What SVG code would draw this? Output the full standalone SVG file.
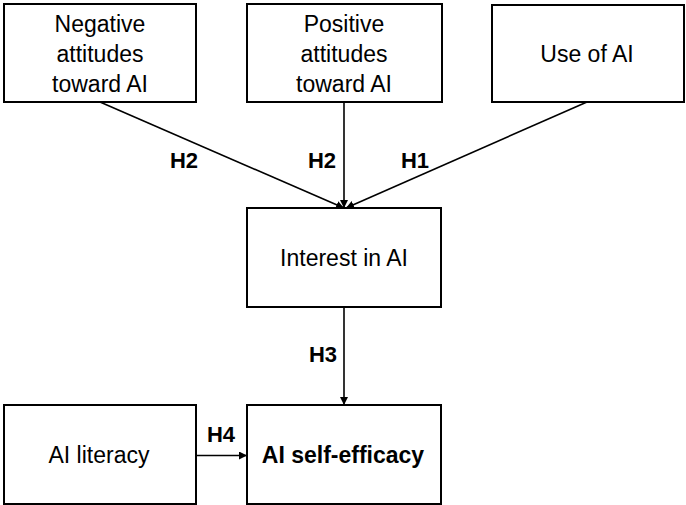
<svg xmlns="http://www.w3.org/2000/svg" width="686" height="505" viewBox="0 0 686 505">
<style>
.box{fill:#fff;stroke:#000;stroke-width:2}
.t{font-family:"Liberation Sans",Arial,sans-serif;font-size:23px;text-anchor:middle;fill:#000}
.b{font-weight:bold}
.lbl{font-family:"Liberation Sans",Arial,sans-serif;font-size:22px;font-weight:bold;text-anchor:middle;fill:#000}
.c{stroke:#000;stroke-width:1.6;fill:none;marker-end:url(#ah)}
</style>
<defs>
<marker id="ah" viewBox="0 0 10 10" refX="10" refY="5" markerWidth="8" markerHeight="8" markerUnits="userSpaceOnUse" orient="auto">
<path d="M0,0 L10,5 L0,10 Z" fill="#000"/>
</marker>
</defs>
<rect width="686" height="505" fill="#fff"/>
<g id="connectors">
<line class="c" x1="100" y1="102" x2="344" y2="208"/>
<line class="c" x1="344" y1="102" x2="344" y2="208"/>
<line class="c" x1="587" y1="102" x2="346" y2="208"/>
<line class="c" x1="344" y1="307" x2="344" y2="405"/>
<line class="c" x1="196" y1="455.5" x2="247" y2="455.5"/>
<text class="lbl" x="184" y="168">H2</text>
<text class="lbl" x="322" y="168">H2</text>
<text class="lbl" x="415" y="168">H1</text>
<text class="lbl" x="323" y="362">H3</text>
<text class="lbl" x="221" y="442">H4</text>
</g>
<g id="negative">
<rect class="box" x="4" y="4" width="192" height="98"/>
<text class="t" x="100" y="32">Negative</text>
<text class="t" x="100" y="62">attitudes</text>
<text class="t" x="100" y="92">toward AI</text>
</g>
<g id="positive">
<rect class="box" x="247" y="4" width="195" height="98"/>
<text class="t" x="344" y="32">Positive</text>
<text class="t" x="344" y="62">attitudes</text>
<text class="t" x="344" y="92">toward AI</text>
</g>
<g id="use">
<rect class="box" x="492" y="5" width="192" height="97"/>
<text class="t" x="587" y="62">Use of AI</text>
</g>
<g id="interest">
<rect class="box" x="247" y="208" width="194" height="99"/>
<text class="t" x="344" y="266">Interest in AI</text>
</g>
<g id="literacy">
<rect class="box" x="4" y="405" width="192" height="99"/>
<text class="t" x="99" y="463">AI literacy</text>
</g>
<g id="selfefficacy">
<rect class="box" x="247" y="405" width="194" height="99"/>
<text class="t b" x="343" y="463">AI self-efficacy</text>
</g>
</svg>
